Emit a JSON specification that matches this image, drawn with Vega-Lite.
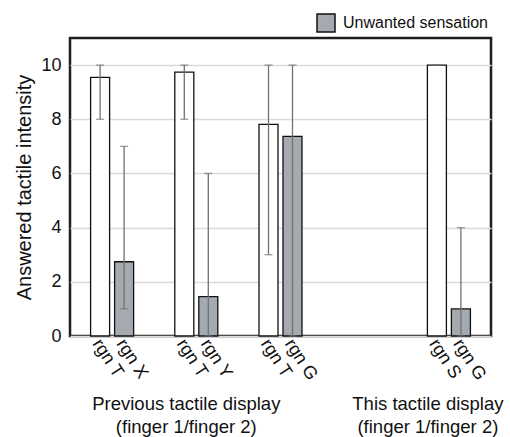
{
  "$schema": "https://vega.github.io/schema/vega-lite/v6.json",
  "autosize": {"type": "none"},
  "padding": {"left": 70, "top": 38, "right": 19, "bottom": 101},
  "width": 421,
  "height": 298,
  "config": {
    "font": "Liberation Sans",
    "view": {"stroke": "#1e1e1e", "strokeWidth": 2.5},
    "axis": {"labelColor": "#111", "titleColor": "#111"}
  },
  "data": {
    "values": [
      {"pair": "P1", "bar": 1, "label": "rgn T", "kind": "Wanted", "value": 9.55, "lo": 8, "hi": 10},
      {"pair": "P1", "bar": 2, "label": "rgn X", "kind": "Unwanted sensation", "value": 2.74, "lo": 1, "hi": 7},
      {"pair": "P2", "bar": 1, "label": "rgn T", "kind": "Wanted", "value": 9.74, "lo": 8, "hi": 10},
      {"pair": "P2", "bar": 2, "label": "rgn Y", "kind": "Unwanted sensation", "value": 1.45, "lo": 0, "hi": 6},
      {"pair": "P3", "bar": 1, "label": "rgn T", "kind": "Wanted", "value": 7.81, "lo": 3, "hi": 10},
      {"pair": "P3", "bar": 2, "label": "rgn G", "kind": "Unwanted sensation", "value": 7.37, "lo": 0, "hi": 10},
      {"pair": "This", "bar": 1, "label": "rgn S", "kind": "Wanted", "value": 10, "lo": 10, "hi": 10},
      {"pair": "This", "bar": 2, "label": "rgn G", "kind": "Unwanted sensation", "value": 1.0, "lo": 0, "hi": 4}
    ]
  },
  "encoding": {
    "x": {
      "field": "pair",
      "type": "nominal",
      "sort": null,
      "scale": {"domain": ["P1", "P2", "P3", "gap", "This"], "paddingInner": 0, "paddingOuter": 0},
      "axis": {
        "title": null,
        "ticks": false,
        "domain": false,
        "labelAngle": 0,
        "labelExpr": "datum.value == 'P2' ? ['Previous tactile display', '(finger 1/finger 2)'] : datum.value == 'This' ? ['This tactile display', '(finger 1/finger 2)'] : ''",
        "labelFontSize": 18.5,
        "labelLineHeight": 23,
        "labelBaseline": "top",
        "labelPadding": 58,
        "labelLimit": 400,
        "labelOverlap": false,
        "labelBound": false,
        "labelFlush": false,
        "labelOffset": {"condition": {"test": "datum.value == 'This'", "value": -21}, "value": -10}
      }
    },
    "xOffset": {
      "field": "bar",
      "type": "nominal",
      "scale": {"paddingInner": 0.208, "paddingOuter": 0.858}
    }
  },
  "layer": [
    {
      "mark": {"type": "bar", "stroke": "#111", "strokeWidth": 1.3},
      "encoding": {
        "y": {
          "field": "value",
          "type": "quantitative",
          "scale": {"domain": [0, 11], "nice": false},
          "axis": {
            "values": [0, 2, 4, 6, 8, 10],
            "title": "Answered tactile intensity",
            "titleFontSize": 20,
            "titleFontWeight": "normal",
            "titlePadding": 6,
            "labelFontSize": 18,
            "labelPadding": 9,
            "ticks": false,
            "domain": false,
            "grid": true,
            "gridColor": "#d9d9de",
            "gridWidth": 1.5
          }
        },
        "fill": {
          "field": "kind",
          "type": "nominal",
          "scale": {"domain": ["Wanted", "Unwanted sensation"], "range": ["#ffffff", "#a5aab0"]},
          "legend": {
            "values": ["Unwanted sensation"],
            "title": null,
            "orient": "none",
            "legendX": 246,
            "legendY": -25,
            "symbolType": "square",
            "symbolSize": 324,
            "labelFontSize": 16,
            "labelColor": "#111",
            "labelOffset": 7,
            "encode": {"symbols": {"update": {"fill": {"value": "#8c9196"}, "stroke": {"value": "#333"}, "strokeWidth": {"value": 1.2}, "opacity": {"value": 1}}}}
          }
        }
      }
    },
    {
      "mark": {"type": "rule", "color": "#6e7276", "strokeWidth": 1.3},
      "encoding": {
        "y": {"field": "lo", "type": "quantitative"},
        "y2": {"field": "hi"}
      }
    },
    {
      "mark": {"type": "tick", "color": "#6e7276", "thickness": 1.3, "size": 8},
      "encoding": {"y": {"field": "hi", "type": "quantitative"}}
    },
    {
      "mark": {"type": "tick", "color": "#6e7276", "thickness": 1.3, "size": 8},
      "encoding": {"y": {"field": "lo", "type": "quantitative"}}
    },
    {
      "mark": {"type": "text", "angle": 57, "align": "left", "baseline": "middle", "dx": 2, "dy": 6, "fontSize": 18, "color": "#111"},
      "encoding": {
        "y": {"datum": 0},
        "text": {"field": "label"}
      }
    }
  ]
}
